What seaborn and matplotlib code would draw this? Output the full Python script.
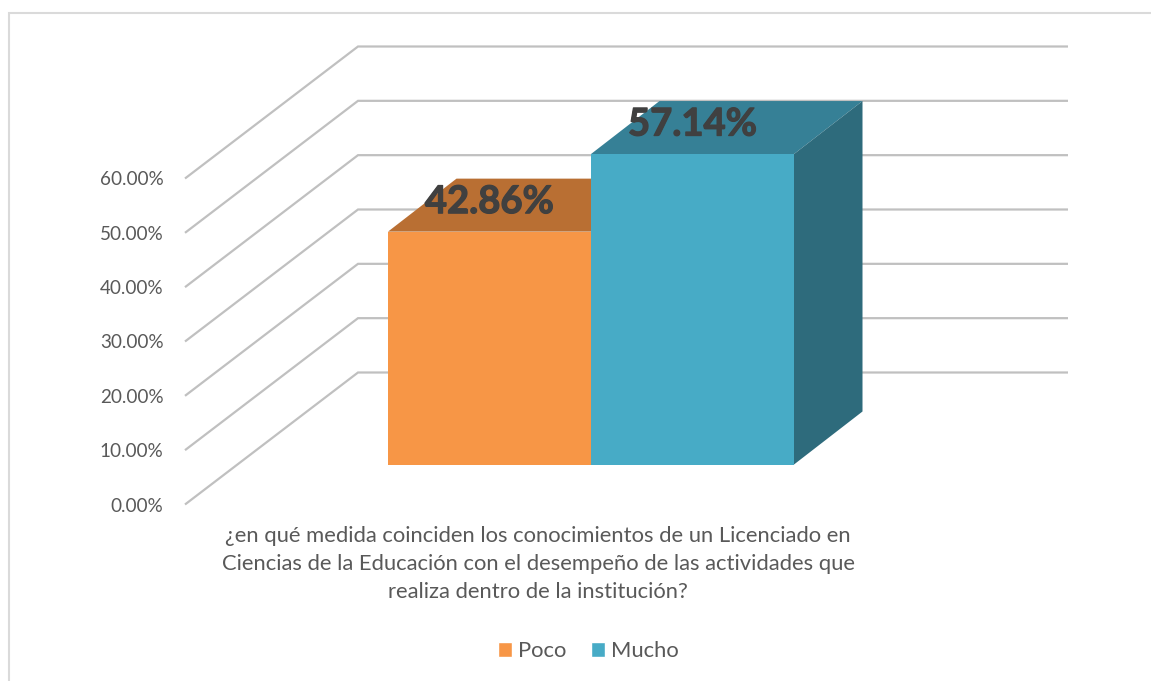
import matplotlib
matplotlib.use("Agg")
import matplotlib.pyplot as plt
import matplotlib.patheffects as pe
from matplotlib.patches import Polygon, Rectangle
from matplotlib.ticker import FuncFormatter
import pandas as pd
import seaborn as sns

categories = ["Poco", "Mucho"]
values = [42.86, 57.14]
ticks = [0, 10, 20, 30, 40, 50, 60]
question = ("¿en qué medida coinciden los conocimientos de un Licenciado en\n"
            "Ciencias de la Educación con el desempeño de las actividades que\n"
            "realiza dentro de la institución?")
front_colors = ["#F79646", "#47ABC6"]
top_colors = ["#B96F33", "#368096"]
side_colors = ["#B96F33", "#2E6B7C"]

W, H = 1151, 681
sns.set_theme(style="white")
plt.rcParams["font.family"] = ["Lato", "DejaVu Sans"]
fig = plt.figure(figsize=(W / 100, H / 100), dpi=100, facecolor="white")


def px_axes(x0, y_bottom, x1, y_top, **kw):
    return fig.add_axes([x0 / W, 1 - y_bottom / H, (x1 - x0) / W, (y_bottom - y_top) / H], **kw)


fig.add_artist(Rectangle((8.5 / W, -0.1), 1.2, 1.1 - 12.5 / H, transform=fig.transFigure,
                         fill=False, edgecolor="#DADADA", linewidth=1.5))

# back wall and floor-to-wall gridlines
ax_wall = px_axes(185, 504.5, 1068, 178.5, zorder=1)
ax_wall.set_xlim(0, 883)
ax_wall.set_ylim(0, 60)
ax_wall.patch.set_alpha(0)
wall_dx, wall_dy = 173, 132 / 326 * 60
for t in ticks:
    ax_wall.plot([0, wall_dx, 883], [t, t + wall_dy, t + wall_dy], color="#C0C0C0",
                 linewidth=1.6, clip_on=False, solid_capstyle="butt", solid_joinstyle="miter")
ax_wall.set_xticks([])
ax_wall.set_yticks(ticks)
ax_wall.yaxis.set_major_formatter(FuncFormatter(lambda v, _: f"{v:.2f}%"))
ax_wall.tick_params(axis="y", length=0, pad=15.5, labelsize=13.6, labelcolor="#595959")
sns.despine(ax=ax_wall, left=True, bottom=True)

# bars
ax_bar = px_axes(388, 464.5, 794, 138.5, zorder=2)
ax_bar.patch.set_alpha(0)
df = pd.DataFrame({"cat": categories, "val": values})
sns.barplot(data=df, x="cat", y="val", hue="cat", hue_order=categories, order=categories,
            palette=front_colors, width=1, dodge=False, saturation=1, legend=False, ax=ax_bar)
ax_bar.set_xlim(-0.5, 1.5)
ax_bar.set_ylim(0, 60)
ax_bar.set_xticks([])
ax_bar.set_yticks([])
ax_bar.set_xlabel("")
ax_bar.set_ylabel("")
sns.despine(ax=ax_bar, left=True, bottom=True)
for c in ax_bar.containers:
    for p in c:
        p.set_zorder(2)
        p.set_linewidth(0)

ddx, ddy = 68.5 / 203, 53 / 326 * 60
for i, v in enumerate(values):
    l, r = i - 0.5, i + 0.5
    ax_bar.add_patch(Polygon([(l, v), (r, v), (r + ddx, v + ddy), (l + ddx, v + ddy)],
                             facecolor=top_colors[i], edgecolor="none", clip_on=False, zorder=1))
    ax_bar.add_patch(Polygon([(r, 0), (r + ddx, ddy), (r + ddx, v + ddy), (r, v)],
                             facecolor=side_colors[i], edgecolor="none", clip_on=False, zorder=1.5))
for c, v in zip(ax_bar.containers, values):
    for lab in ax_bar.bar_label(c, labels=[f"{v:.2f}%"], padding=9, fontsize=27.5, fontweight="bold",
                                color="#404040", zorder=5):
        lab.set_path_effects([pe.withStroke(linewidth=0.9, foreground="#404040")])

# category text (axis title position)
ax_wall.set_xlabel(question, fontsize=15.8, color="#595959", linespacing=1.5)
ax_wall.xaxis.set_label_coords((538 - 185) / 883, -(526 - 504) / 326, transform=ax_wall.transAxes)
ax_wall.xaxis.label.set_verticalalignment("top")

handles = [Rectangle((0, 0), 1, 1, facecolor=col) for col in front_colors]
fig.legend(handles, categories, ncol=2, loc="center", bbox_to_anchor=(588.5 / W, 1 - 651 / H),
           frameon=False, fontsize=15.8, labelcolor="#595959", handlelength=0.64, handleheight=0.64,
           handletextpad=0.27, columnspacing=1.14, borderpad=0)

fig.savefig("out.png", dpi=100, facecolor="white")
